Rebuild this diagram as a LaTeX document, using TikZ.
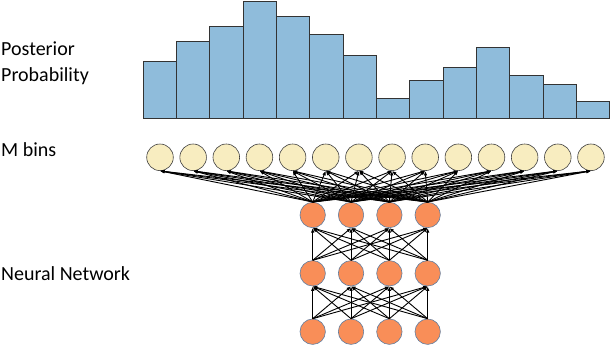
\documentclass[tikz,border=0pt]{standalone}
\usepackage{fontspec}
\setmainfont{Carlito}
\usetikzlibrary{arrows.meta}
\definecolor{barblue}{RGB}{143,188,219}
\definecolor{binyellow}{RGB}{248,237,192}
\definecolor{nnorange}{RGB}{249,142,88}
\definecolor{nnedge}{RGB}{95,125,160}
\tikzset{
  bar/.style={draw=black!80,fill=barblue,line width=1pt},
  bin/.style={circle,draw=black!75,fill=binyellow,minimum size=26.6pt,inner sep=0pt,line width=.6pt},
  unit/.style={circle,draw=nnedge,fill=nnorange,minimum size=25.4pt,inner sep=0pt,line width=.6pt},
  link/.style={-{Latex[length=4.5pt,width=3.5pt]},line width=.9pt},
  lbl/.style={anchor=base west,inner sep=0pt,font=\fontsize{20}{24}\selectfont}
}

\begin{document}
\begin{tikzpicture}[x=1pt,y=-1pt]
\useasboundingbox (0,0) rectangle (610,346);
% histogram
\foreach \h [count=\i from 0] in {61.7,41.3,26.3,1.3,16.7,34.3,55.3,98,80.3,67.3,47.3,75.3,84.7,101.3}
  \draw[bar] ({143.3+33.32*\i},118) rectangle ({143.3+33.32*(\i+1)},\h);
% bins and network
\foreach \i in {0,...,13}
  \node[bin] (b\i) at ({160+33.15*\i},157.3) {};
\foreach \j/\y in {1/215,2/273.3,3/331.7}
  \foreach \i in {1,...,4}
    \node[unit] (n\j\i) at ({312.7+38.33*(\i-1)},\y) {};
\foreach \i in {1,...,4}
  \foreach \k in {0,...,13}
    \draw[link] (n1\i.north) -- (b\k.south);
\foreach \i in {1,...,4}
  \foreach \k in {1,...,4} {
    \draw[link] (n2\i.north) -- (n1\k.south);
    \draw[link] (n3\i.north) -- (n2\k.south);
  }
% labels
\node[lbl] (post) at (1,55.5) {Posterior};
\node[lbl] (prob) at (1,81) {Probability};
\node[lbl] (mbins) at (1,156) {M bins};
\node[lbl] (nn) at (1,280) {Neural Network};
\end{tikzpicture}
\end{document}
